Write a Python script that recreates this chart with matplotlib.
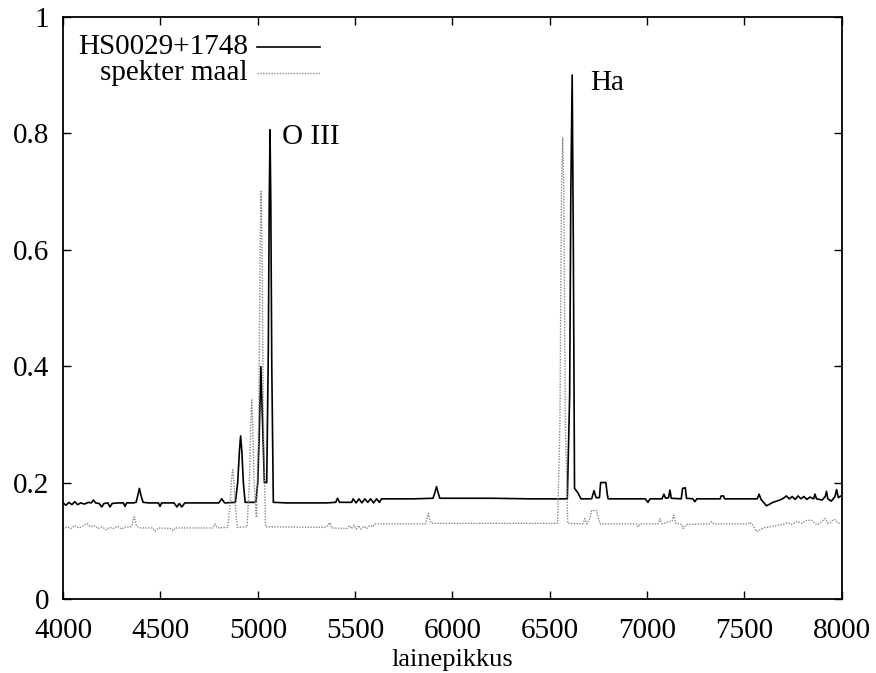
import matplotlib
matplotlib.use("Agg")
import matplotlib.pyplot as plt

plt.rcParams['font.family'] = ['Liberation Serif', 'DejaVu Serif']

# HS0029+1748 (solid line)
obj_wl = [4000, 4015, 4030, 4045, 4060, 4075, 4090, 4110, 4130, 4145, 4156, 4167,
          4185, 4199, 4210, 4230, 4241, 4252, 4280, 4310, 4318, 4326, 4360, 4375,
          4384, 4392, 4400, 4411, 4440, 4490, 4498, 4506, 4570, 4585, 4597, 4610,
          4625, 4700, 4800, 4815, 4830, 4885, 4897, 4906, 4912, 4918, 4926, 4935,
          4990, 5000, 5008, 5016, 5026, 5034, 5046, 5054, 5059, 5063, 5067, 5072,
          5080, 5150, 5250, 5350, 5400, 5410, 5420, 5482, 5490, 5505, 5520, 5535,
          5550, 5565, 5580, 5595, 5610, 5625, 5636, 5700, 5800, 5900, 5910, 5918,
          5926, 5935, 6000, 6200, 6400, 6590, 6602, 6608, 6615, 6621, 6627, 6645,
          6660, 6715, 6727, 6738, 6755, 6761, 6788, 6795, 6800, 6990, 7004, 7015,
          7076, 7086, 7095, 7110, 7117, 7124, 7175, 7182, 7196, 7202, 7235, 7245,
          7255, 7375, 7380, 7392, 7398, 7565, 7575, 7585, 7613, 7646, 7682, 7700,
          7715, 7730, 7745, 7760, 7775, 7790, 7805, 7820, 7836, 7855, 7862, 7870,
          7899, 7915, 7921, 7928, 7946, 7965, 7973, 7982, 8000]
obj_flux = [0.165, 0.161, 0.166, 0.162, 0.167, 0.162, 0.165, 0.163, 0.166, 0.165, 0.170, 0.165,
            0.164, 0.158, 0.164, 0.165, 0.158, 0.164, 0.165, 0.165, 0.159, 0.165, 0.165, 0.166,
            0.178, 0.190, 0.178, 0.166, 0.165, 0.165, 0.159, 0.165, 0.165, 0.158, 0.164, 0.158,
            0.165, 0.165, 0.165, 0.172, 0.165, 0.166, 0.200, 0.255, 0.280, 0.255, 0.200, 0.166,
            0.166, 0.200, 0.290, 0.399, 0.290, 0.200, 0.200, 0.420, 0.680, 0.806, 0.680, 0.400,
            0.166, 0.165, 0.165, 0.165, 0.166, 0.173, 0.166, 0.166, 0.172, 0.165, 0.172, 0.165,
            0.172, 0.166, 0.172, 0.165, 0.172, 0.166, 0.172, 0.172, 0.172, 0.173, 0.183, 0.193,
            0.183, 0.173, 0.173, 0.173, 0.172, 0.172, 0.350, 0.700, 0.900, 0.600, 0.190, 0.182,
            0.172, 0.172, 0.186, 0.174, 0.174, 0.200, 0.200, 0.180, 0.172, 0.172, 0.166, 0.172,
            0.172, 0.180, 0.173, 0.174, 0.187, 0.173, 0.172, 0.190, 0.191, 0.173, 0.172, 0.167,
            0.172, 0.172, 0.177, 0.177, 0.172, 0.172, 0.180, 0.171, 0.160, 0.166, 0.170, 0.173,
            0.177, 0.172, 0.176, 0.171, 0.177, 0.172, 0.176, 0.171, 0.175, 0.172, 0.180, 0.172,
            0.170, 0.176, 0.185, 0.172, 0.168, 0.176, 0.188, 0.174, 0.178]

# spekter maal (dotted line)
ref_wl = [4000, 4020, 4040, 4060, 4080, 4100, 4122, 4140, 4160, 4180, 4200, 4220,
          4240, 4260, 4280, 4300, 4320, 4340, 4353, 4359, 4365, 4371, 4378, 4400,
          4460, 4472, 4490, 4555, 4565, 4575, 4770, 4781, 4792, 4845, 4858, 4865,
          4871, 4877, 4884, 4895, 4945, 4957, 4964, 4969, 4974, 4981, 4993, 5005,
          5012, 5017, 5022, 5029, 5040, 5350, 5371, 5380, 5458, 5470, 5482, 5494,
          5506, 5518, 5530, 5545, 5560, 5575, 5592, 5600, 5860, 5870, 5876, 5882,
          5892, 6540, 6552, 6560, 6566, 6572, 6580, 6592, 6670, 6680, 6690, 6708,
          6714, 6740, 6750, 6760, 6945, 6954, 6963, 7055, 7066, 7075, 7128, 7137,
          7146, 7178, 7185, 7202, 7320, 7331, 7342, 7520, 7528, 7545, 7562, 7597,
          7646, 7697, 7720, 7745, 7770, 7793, 7820, 7846, 7865, 7880, 7898, 7914,
          7928, 7940, 7955, 7966, 7982, 8000]
ref_flux = [0.120, 0.124, 0.121, 0.126, 0.122, 0.125, 0.130, 0.124, 0.126, 0.121, 0.124, 0.119,
            0.123, 0.121, 0.125, 0.120, 0.124, 0.123, 0.125, 0.134, 0.141, 0.134, 0.125, 0.122,
            0.122, 0.116, 0.122, 0.121, 0.117, 0.122, 0.122, 0.129, 0.122, 0.123, 0.160, 0.205,
            0.222, 0.205, 0.160, 0.123, 0.124, 0.200, 0.300, 0.342, 0.300, 0.200, 0.140, 0.300,
            0.600, 0.700, 0.600, 0.300, 0.124, 0.123, 0.131, 0.122, 0.121, 0.126, 0.121, 0.127,
            0.120, 0.126, 0.120, 0.125, 0.121, 0.126, 0.124, 0.129, 0.129, 0.138, 0.147, 0.138,
            0.130, 0.130, 0.300, 0.700, 0.792, 0.700, 0.300, 0.130, 0.129, 0.138, 0.129, 0.140,
            0.152, 0.152, 0.138, 0.129, 0.129, 0.124, 0.129, 0.129, 0.138, 0.129, 0.134, 0.144,
            0.130, 0.128, 0.121, 0.128, 0.129, 0.133, 0.129, 0.129, 0.132, 0.126, 0.116, 0.122,
            0.125, 0.128, 0.131, 0.128, 0.133, 0.130, 0.135, 0.135, 0.129, 0.128, 0.134, 0.138,
            0.130, 0.131, 0.136, 0.136, 0.130, 0.130]

x_ticks = [4000, 4500, 5000, 5500, 6000, 6500, 7000, 7500, 8000]
y_ticks = [0, 0.2, 0.4, 0.6, 0.8, 1]
y_ticklabels = ['0', '0.2', '0.4', '0.6', '0.8', '1']

fig = plt.figure(figsize=(8.76, 6.73), dpi=100)
ax = fig.add_axes([0.072, 0.110, 0.889, 0.865])

ax.plot(obj_wl, obj_flux, color='black', lw=1.2, label='HS0029+1748')
ax.plot(ref_wl, ref_flux, color='#8a8a8a', lw=1.0, linestyle=(0, (1, 1)), label='spekter maal')

ax.set_xlim(4000, 8000)
ax.set_ylim(0, 1)
ax.set_xticks(x_ticks)
ax.set_yticks(y_ticks)
ax.set_yticklabels(y_ticklabels)
ax.tick_params(direction='in', length=6, width=1, top=True, right=True, labelsize=21)
ax.tick_params(axis='x', pad=14)
ax.tick_params(axis='y', pad=10)
for s in ax.spines.values():
    s.set_linewidth(1.3)
ax.set_xlabel('lainepikkus', fontsize=19, labelpad=3)

# gnuplot-style key: right aligned text, sample line on the right
ax.text(0.2375, 0.948, 'HS0029+1748', transform=ax.transAxes, ha='right', va='center', fontsize=21)
ax.text(0.2375, 0.903, 'spekter maal', transform=ax.transAxes, ha='right', va='center', fontsize=21)
ax.plot([0.249, 0.330], [0.948, 0.948], transform=ax.transAxes, color='black', lw=1.2)
ax.plot([0.249, 0.330], [0.903, 0.903], transform=ax.transAxes, color='#8a8a8a', lw=1.0,
        linestyle=(0, (1, 1)))

ax.text(5125, 0.794, 'O III', fontsize=21, va='center', ha='left')
ax.text(6706, 0.886, 'Ha', fontsize=21, va='center', ha='left')

fig.savefig('out.png', dpi=100)
